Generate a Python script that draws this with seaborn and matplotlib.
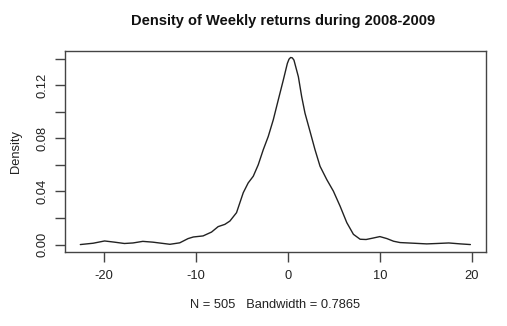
import matplotlib
matplotlib.use("Agg")
import matplotlib.pyplot as plt
import seaborn as sns
import pandas as pd

# Weekly returns density curve
returns = [-22.6, -21.2, -19.96, -18.87, -17.8, -16.87, -15.8, -14.7, -12.85, -11.78,
           -10.87, -10.3, -9.24, -8.32, -7.6, -6.87, -6.32, -5.6, -4.87, -4.33,
           -3.78, -3.24, -2.69, -2.15, -1.6, -1.06, -0.51, -0.07, 0.11, 0.29,
           0.47, 0.65, 1.13, 1.49, 1.85, 2.4, 2.94, 3.49, 4.22, 4.94,
           5.67, 6.4, 7.12, 7.85, 8.5, 9.2, 10.0, 10.76, 11.49, 12.2,
           13.67, 15.1, 16.2, 17.5, 18.76, 19.85]
density = [0.0000, 0.0010, 0.0027, 0.0018, 0.0008, 0.0012, 0.0024, 0.0018, 0.0002, 0.0013,
           0.0045, 0.0057, 0.0065, 0.0094, 0.0135, 0.0152, 0.0177, 0.0240, 0.0390, 0.0464,
           0.0514, 0.0600, 0.0714, 0.0813, 0.0939, 0.1088, 0.1238, 0.1363, 0.1395, 0.1408,
           0.1405, 0.1388, 0.1263, 0.1113, 0.0989, 0.0851, 0.0714, 0.0589, 0.0489, 0.0402,
           0.0289, 0.0165, 0.0077, 0.0040, 0.0038, 0.0048, 0.0060, 0.0045, 0.0025, 0.0015,
           0.0010, 0.0005, 0.0008, 0.0012, 0.0005, 0.0000]

x_ticks = [-20, -10, 0, 10, 20]
y_ticks = [0.00, 0.02, 0.04, 0.06, 0.08, 0.10, 0.12, 0.14]
y_tick_labels = ["0.00", "", "0.04", "", "0.08", "", "0.12", ""]

title = "Density of Weekly returns during 2008-2009"
xlabel = "N = 505   Bandwidth = 0.7865"
ylabel = "Density"

sns.set_theme(style="white")
plt.rcParams["font.family"] = ["Liberation Sans", "DejaVu Sans"]

df = pd.DataFrame({"x": returns, "y": density})

fig = plt.figure(figsize=(5.07, 3.26), dpi=100)
ax = fig.add_axes([0.1276, 0.227, 0.831, 0.6175])
sns.lineplot(data=df, x="x", y="y", ax=ax, color="#222222", linewidth=1.0, sort=False,
             solid_joinstyle="round")

ax.set_xlim(-24.3, 21.55)
ax.set_ylim(-0.0056, 0.1459)
ax.set_xticks(x_ticks)
ax.set_xticklabels([str(t) for t in x_ticks])
ax.set_yticks(y_ticks)
ax.set_yticklabels(y_tick_labels, rotation=90, va="center")

for s in ax.spines.values():
    s.set_visible(True)
    s.set_color("#444444")
    s.set_linewidth(1.0)

ax.tick_params(axis="both", direction="out", length=7, width=1.0, color="#444444",
               labelsize=9.3, labelcolor="#222222", bottom=True, left=True)
ax.tick_params(axis="x", pad=6)
ax.tick_params(axis="y", pad=5)

ax.set_xlabel(xlabel, fontsize=9.3, color="#222222", labelpad=12)
ax.set_ylabel(ylabel, fontsize=9.3, color="#222222", labelpad=10)
fig.text(0.558, 0.937, title, ha="center", va="center", fontsize=10.5,
         fontweight="bold", color="#111111")

fig.savefig("out.png", dpi=100, facecolor="white")
